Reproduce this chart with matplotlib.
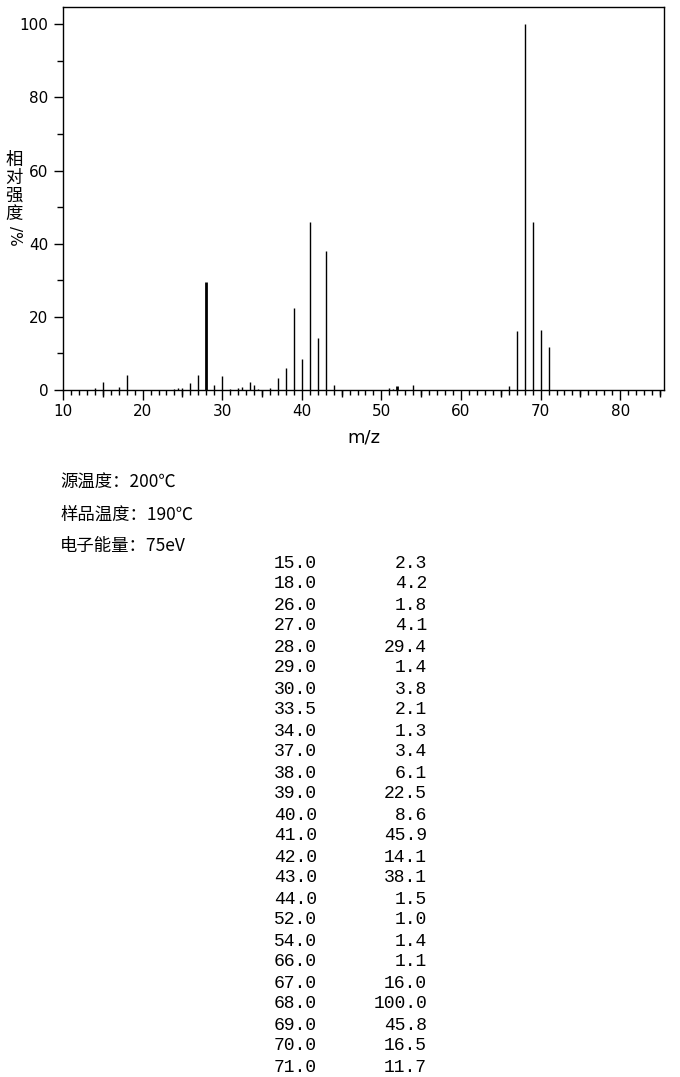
import numpy as np
import matplotlib
matplotlib.use('Agg')
import matplotlib.pyplot as plt
from matplotlib.ticker import MultipleLocator, FixedLocator

# peaks listed in the table (m/z, relative intensity %)
table_mz = [15.0, 18.0, 26.0, 27.0, 28.0, 29.0, 30.0, 33.5, 34.0, 37.0, 38.0, 39.0, 40.0,
            41.0, 42.0, 43.0, 44.0, 52.0, 54.0, 66.0, 67.0, 68.0, 69.0, 70.0, 71.0]
table_int = [2.3, 4.2, 1.8, 4.1, 29.4, 1.4, 3.8, 2.1, 1.3, 3.4, 6.1, 22.5, 8.6,
             45.9, 14.1, 38.1, 1.5, 1.0, 1.4, 1.1, 16.0, 100.0, 45.8, 16.5, 11.7]

# small peaks seen on the chart but not listed
minor_mz = [14.0, 17.0, 24.0, 24.5, 25.0, 31.0, 32.0, 32.5, 34.5, 36.0, 51.0, 51.5]
minor_int = [0.5, 0.8, 0.3, 0.5, 0.5, 0.4, 0.5, 0.7, 0.3, 0.5, 0.5, 0.3]

conditions = ['源温度：200℃', '样品温度：190℃', '电子能量：75eV']

W, H = 680, 1077
fig = plt.figure(figsize=(W / 100, H / 100), dpi=100)
ax = fig.add_axes([63 / W, 1 - 390 / H, (664 - 63) / W, (390 - 7) / H])

mz = np.array(table_mz + minor_mz)
inten = np.array(table_int + minor_int)
lw = np.where(np.isin(mz, [28.0, 52.0]), 2.0, 1.0)
ax.vlines(mz, 0, inten, colors='black', linewidth=lw)

ax.set_xlim(10, 85.5)
ax.set_ylim(0, 104.7)

ax.xaxis.set_major_locator(MultipleLocator(10))
ax.xaxis.set_minor_locator(MultipleLocator(1))
ax.yaxis.set_major_locator(MultipleLocator(20))
ax.yaxis.set_minor_locator(MultipleLocator(10))
ax.tick_params(axis='x', which='major', length=7.2, width=1, pad=3, labelsize=11, direction='out')
ax.tick_params(axis='x', which='minor', length=3.6, width=1, direction='out')
ax.tick_params(axis='y', which='major', length=6.5, width=1, pad=4, labelsize=11, direction='out')
ax.tick_params(axis='y', which='minor', length=4.3, width=1, direction='out')

# medium ticks at the fives
sec = ax.secondary_xaxis('bottom')
sec.xaxis.set_major_locator(FixedLocator([15, 25, 35, 45, 55, 65, 75, 85]))
sec.tick_params(length=5, width=1, labelbottom=False)
sec.spines['bottom'].set_visible(False)

for s in ax.spines.values():
    s.set_linewidth(1)
    s.set_color('black')

ax.set_xlabel('m/z', fontsize=13, labelpad=7)

# vertical y label: upright characters stacked, then rotated "/%"
fig.text(14 / W, 1 - 187 / H, '相\n对\n强\n度', fontsize=12.5, linespacing=1.0,
         family=['Noto Sans CJK SC', 'DejaVu Sans'], ha='center', va='center')
fig.text(14 / W, 1 - 236 / H, '/%', fontsize=11, rotation=270,
         family=['DejaVu Sans'], ha='center', va='center')

for i, line in enumerate(conditions):
    fig.text(60 / W, 1 - (483 + i * 31.5) / H, line, fontsize=12.5,
             family=['Noto Sans CJK SC', 'DejaVu Sans'], ha='left', va='center')

for i, (m, v) in enumerate(zip(table_mz, table_int)):
    y = 1 - (563 + i * 21) / H
    fig.text(317 / W, y, f'{m:.1f}', fontsize=13, family='Liberation Mono', ha='right', va='center')
    fig.text(427 / W, y, f'{v:.1f}', fontsize=13, family='Liberation Mono', ha='right', va='center')

fig.savefig('out.png', dpi=100)
